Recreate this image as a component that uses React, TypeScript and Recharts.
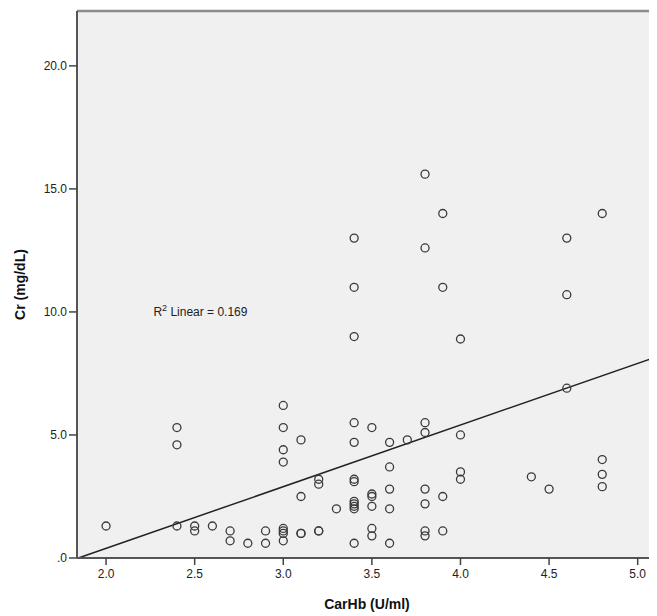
import React from 'react';
import {
  ScatterChart,
  Scatter,
  XAxis,
  YAxis,
  CartesianGrid,
  ReferenceLine,
  ReferenceDot,
  Label
} from 'recharts';

// CarHb (U/ml) vs Cr (mg/dL)
const carHb = [
  2.0,
  2.4, 2.4, 2.4,
  2.5, 2.5,
  2.6,
  2.7, 2.7,
  2.8,
  2.9, 2.9,
  3.0, 3.0, 3.0, 3.0, 3.0, 3.0, 3.0, 3.0,
  3.1, 3.1, 3.1, 3.1,
  3.2, 3.2, 3.2, 3.2,
  3.3,
  3.4, 3.4, 3.4, 3.4, 3.4, 3.4, 3.4, 3.4, 3.4, 3.4, 3.4, 3.4,
  3.5, 3.5, 3.5, 3.5, 3.5, 3.5,
  3.6, 3.6, 3.6, 3.6, 3.6,
  3.7,
  3.8, 3.8, 3.8, 3.8, 3.8, 3.8, 3.8, 3.8,
  3.9, 3.9, 3.9, 3.9,
  4.0, 4.0, 4.0, 4.0,
  4.4,
  4.5,
  4.6, 4.6, 4.6,
  4.8, 4.8, 4.8, 4.8
];

const cr = [
  1.3,
  5.3, 4.6, 1.3,
  1.3, 1.1,
  1.3,
  1.1, 0.7,
  0.6,
  1.1, 0.6,
  6.2, 5.3, 4.4, 3.9, 1.2, 1.1, 1.0, 0.7,
  4.8, 2.5, 1.0, 1.0,
  3.2, 3.0, 1.1, 1.1,
  2.0,
  13.0, 11.0, 9.0, 5.5, 4.7, 3.2, 3.1, 2.3, 2.2, 2.1, 2.0, 0.6,
  5.3, 2.6, 2.5, 2.1, 1.2, 0.9,
  4.7, 3.7, 2.8, 2.0, 0.6,
  4.8,
  15.6, 12.6, 5.5, 5.1, 2.8, 2.2, 1.1, 0.9,
  14.0, 11.0, 2.5, 1.1,
  8.9, 5.0, 3.5, 3.2,
  3.3,
  2.8,
  13.0, 10.7, 6.9,
  14.0, 4.0, 3.4, 2.9
];

const xTicks = [2.0, 2.5, 3.0, 3.5, 4.0, 4.5, 5.0];
const yTicks = [0, 5, 10, 15, 20];

const X_MIN = 1.836;
const X_MAX = 5.109;
const Y_MAX = 22.23;

// fit line as drawn in the picture
const fitSlope = 2.506;
const fitIntercept = -4.62;
const r2Text = '0.169';

const points = carHb.map((x, i) => ({ x, y: cr[i] }));
const fitStartX = -fitIntercept / fitSlope;
const fitSegment = [
  { x: fitStartX, y: fitSlope * fitStartX + fitIntercept },
  { x: X_MAX, y: fitSlope * X_MAX + fitIntercept }
];

const FONT = '"Liberation Sans", Arial, sans-serif';

const OpenCircle = (props: any) => (
  <circle cx={props.cx} cy={props.cy} r={4} fill="none" stroke="#3a3a3a" strokeWidth={1.3} />
);

const R2Label = (props: any) => {
  const { x, y } = props.viewBox;
  return (
    <text x={x} y={y} fontFamily={FONT} fontSize={12} fill="#222">
      <tspan>R</tspan>
      <tspan dy={-5} fontSize={9}>2</tspan>
      <tspan dy={5}> Linear = {r2Text}</tspan>
    </text>
  );
};

const App: React.FC = () => {
  return (
    <div style={{ width: 649, height: 608 }}>
      <style>{'body{overflow:hidden}'}</style>
      <ScatterChart width={649} height={608} margin={{ top: 3, right: 0, bottom: 0, left: 0 }}>
        <CartesianGrid fill="#f0f0f0" horizontal={false} vertical={false} />
        <XAxis
          type="number"
          dataKey="x"
          domain={[X_MIN, X_MAX]}
          ticks={xTicks}
          allowDataOverflow
          height={58}
          tickFormatter={(v: number) => v.toFixed(1)}
          tick={{ fill: '#222', fontSize: 12, fontFamily: FONT }}
          tickSize={7}
          tickMargin={4}
          axisLine={{ stroke: '#555', strokeWidth: 2 }}
          tickLine={{ stroke: '#444', strokeWidth: 1.5 }}
        >
          <Label
            value="CarHb (U/ml)"
            position="insideBottom"
            offset={7}
            style={{ fontFamily: FONT, fontSize: 14, fontWeight: 'bold', fill: '#111' }}
          />
        </XAxis>
        <YAxis
          type="number"
          dataKey="y"
          domain={[0, Y_MAX]}
          ticks={yTicks}
          allowDataOverflow
          width={69}
          tickFormatter={(v: number) => (v === 0 ? '.0' : v.toFixed(1))}
          tick={{ fill: '#222', fontSize: 12, fontFamily: FONT }}
          tickSize={8}
          axisLine={{ stroke: '#555', strokeWidth: 2 }}
          tickLine={{ stroke: '#444', strokeWidth: 1.5 }}
        >
          <Label
            value="Cr (mg/dL)"
            angle={-90}
            position="insideLeft"
            offset={12}
            style={{ fontFamily: FONT, fontSize: 14, fontWeight: 'bold', fill: '#111', textAnchor: 'middle' }}
          />
        </YAxis>
        <ReferenceLine y={Y_MAX} stroke="#8c8c8c" strokeWidth={2.5} />
        <ReferenceLine segment={fitSegment} stroke="#222" strokeWidth={1.5} ifOverflow="visible" />
        <ReferenceDot x={2.267} y={9.82} r={0} fill="none" stroke="none" label={{ content: R2Label }} />
        <Scatter data={points} shape={OpenCircle} isAnimationActive={false} />
      </ScatterChart>
    </div>
  );
};

export default App;
